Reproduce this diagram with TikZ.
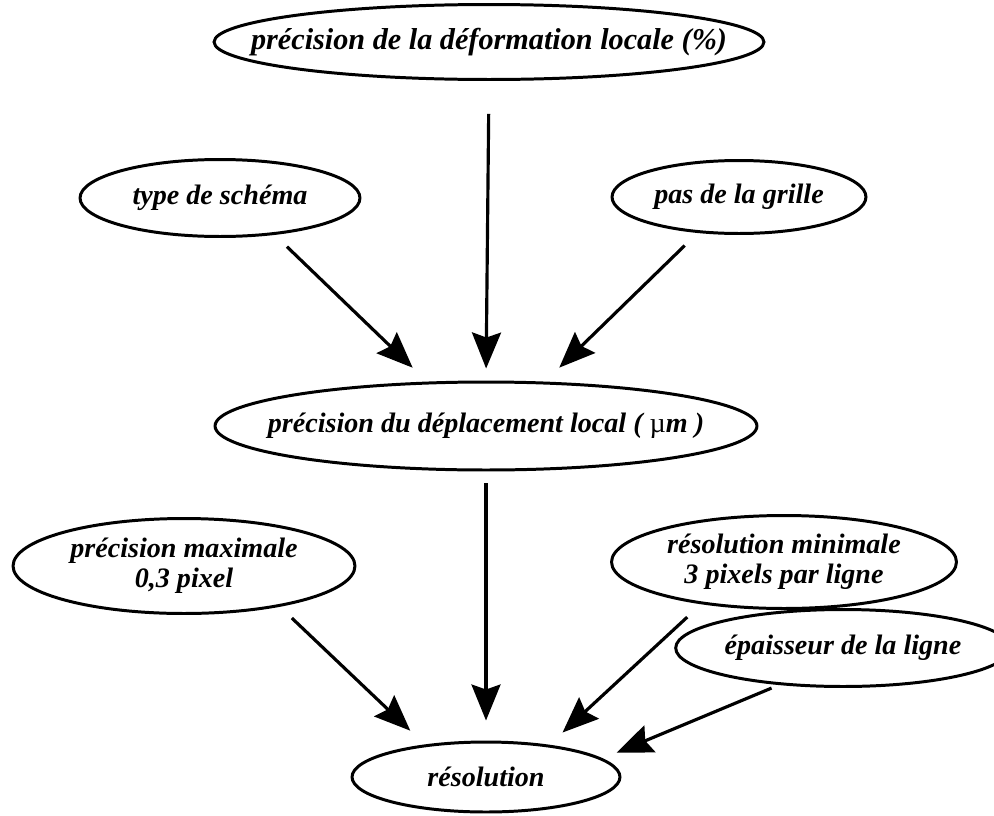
\documentclass[tikz,border=0pt]{standalone}
\usepackage{fontspec}
\setmainfont{Liberation Serif}
\usepackage{tikz}
\usetikzlibrary{shapes.geometric,arrows.meta,positioning,calc}

\tikzset{
  bulle/.style={ellipse, draw=black, line width=1.7pt, inner sep=0pt,
    align=center, font=\fontsize{16}{17}\selectfont\bfseries\itshape},
  fleche/.style={-{Stealth[length=0.72cm, width=0.58cm, inset=0.1cm]},
    line width=1.8pt, shorten <=0.34cm, shorten >=0.4cm}
}

\begin{document}
\begin{tikzpicture}[x=0.02cm, y=-0.02cm]

\useasboundingbox (0,0) rectangle (994,815);

% ================= NIVEAU 1 =================
\node[bulle, minimum width=11cm, minimum height=1.5cm, inner xsep=-1.3cm,
  font=\fontsize{17.2}{18}\selectfont\bfseries\itshape] (deform) at (489,42)
{précision de la déformation locale (\%)};

\node[bulle, minimum width=5.6cm, minimum height=1.54cm] (schema) at (220,198)
{type de schéma};

\node[bulle, minimum width=5.08cm, minimum height=1.46cm] (grille) at (739,197)
{pas de la grille};

% ================= NIVEAU 2 =================
\node[bulle, minimum width=10.84cm, minimum height=1.76cm, inner xsep=-0.7cm]
  (deplac) at (486,426)
{précision du déplacement local ( {\mdseries\upshape µ}m )};

\node[bulle, minimum width=6.84cm, minimum height=1.9cm] (precmax) at (184,566)
{précision maximale\\0,3 pixel};

\node[bulle, minimum width=6.9cm, minimum height=1.86cm] (resmin) at (784,562)
{résolution minimale\\3 pixels par ligne};

\node[bulle, minimum width=5.86cm, minimum height=1.54cm] (epais) at (843,648)
{épaisseur de la ligne};

% ================= NIVEAU 3 =================
\node[bulle, minimum width=5.36cm, minimum height=1.4cm] (resol) at (486,777)
{résolution};

% Fleches
\draw[fleche, shorten <=0.66cm, shorten >=0.24cm] (deform.south) -- (deplac.north);
\draw[fleche] (schema.-34) -- (deplac.143);
\draw[fleche, shorten <=0.36cm] (grille.221.6) -- (deplac.37);

\draw[fleche, shorten <=0.24cm] (deplac.south) -- (resol.north);
\draw[fleche, shorten <=0.33cm] (precmax.-23.9) -- (resol.152);
\draw[fleche, shorten <=0.38cm, shorten >=0.36cm] (resmin.207) -- (resol.27.8);
\draw[fleche, shorten <=0.16cm, shorten >=0.3cm] (epais.210.2) -- (resol.9.8);

\end{tikzpicture}
\end{document}
